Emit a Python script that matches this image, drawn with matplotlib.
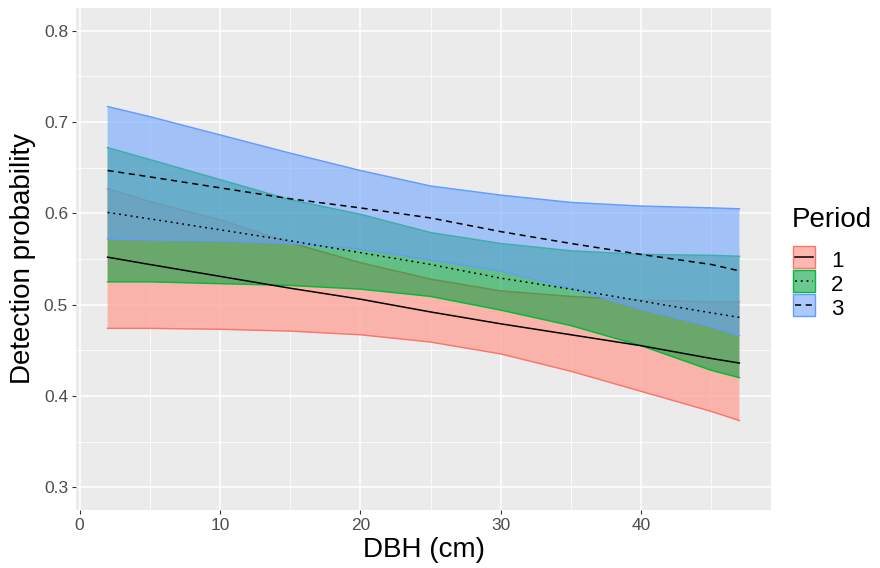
import matplotlib
matplotlib.use("Agg")
import matplotlib.pyplot as plt
from matplotlib.patches import Rectangle
from matplotlib.lines import Line2D
from matplotlib.ticker import MultipleLocator

plt.rcParams['font.family'] = ['Liberation Sans', 'DejaVu Sans']

dbh = [2, 5, 10, 15, 20, 25, 30, 35, 40, 45, 47]

p1_mean  = [0.552, 0.544, 0.531, 0.518, 0.506, 0.492, 0.479, 0.467, 0.455, 0.441, 0.436]
p1_lower = [0.474, 0.474, 0.473, 0.471, 0.467, 0.459, 0.446, 0.427, 0.405, 0.383, 0.373]
p1_upper = [0.627, 0.613, 0.593, 0.568, 0.546, 0.528, 0.515, 0.509, 0.505, 0.503, 0.503]

p2_mean  = [0.601, 0.594, 0.582, 0.570, 0.557, 0.544, 0.529, 0.517, 0.504, 0.491, 0.486]
p2_lower = [0.525, 0.525, 0.523, 0.521, 0.517, 0.509, 0.494, 0.477, 0.455, 0.428, 0.420]
p2_upper = [0.672, 0.659, 0.637, 0.615, 0.599, 0.579, 0.567, 0.559, 0.555, 0.554, 0.553]

p3_mean  = [0.647, 0.640, 0.628, 0.616, 0.606, 0.595, 0.580, 0.567, 0.555, 0.544, 0.537]
p3_lower = [0.572, 0.571, 0.570, 0.567, 0.561, 0.549, 0.537, 0.518, 0.495, 0.476, 0.466]
p3_upper = [0.717, 0.706, 0.686, 0.666, 0.647, 0.630, 0.620, 0.612, 0.608, 0.606, 0.605]

periods = ['1', '2', '3']
edge_colors = ['#F8766D', '#00BA38', '#619CFF']
fill_colors = ['#FFA59C', '#00A03C', '#6EA3FF']
fill_alphas = [0.8, 0.58, 0.58]
means = [p1_mean, p2_mean, p3_mean]
lowers = [p1_lower, p2_lower, p3_lower]
uppers = [p1_upper, p2_upper, p3_upper]
dash_styles = ['-', (0, (1.2, 2.6)), (0, (4, 3))]

W, H = 880, 568
fig = plt.figure(figsize=(W / 100, H / 100), dpi=100)
ax = fig.add_axes([76 / W, 1 - 510 / H, (771 - 76) / W, (510 - 8) / H])
ax.set_facecolor('#EBEBEB')
for s in ax.spines.values():
    s.set_visible(False)

ax.set_xlim(-0.25, 49.25)
ax.set_ylim(0.275, 0.825)
ax.xaxis.set_major_locator(MultipleLocator(10))
ax.xaxis.set_minor_locator(MultipleLocator(5))
ax.yaxis.set_minor_locator(MultipleLocator(0.05))
ax.set_yticks([0.3, 0.4, 0.5, 0.6, 0.7, 0.8])
ax.set_yticklabels(['0.3', '0.4', '0.5', '0.6', '0.7', '0.8'])
ax.grid(which='major', color='white', linewidth=1.1)
ax.grid(which='minor', color='white', linewidth=0.55)
ax.set_axisbelow(True)
ax.tick_params(which='major', length=3.2, width=0.8, color='#333333',
               labelsize=12.5, labelcolor='#4D4D4D', pad=2.5)
ax.tick_params(which='minor', length=0)

# each ribbon: fill then its outline; later ribbons cover earlier outlines
for i, (lo, hi, fc, fa, ec) in enumerate(zip(lowers, uppers, fill_colors, fill_alphas, edge_colors)):
    z = 2 + i * 0.1
    ax.fill_between(dbh, lo, hi, facecolor=fc, alpha=fa, edgecolor='none', zorder=z)
    ax.plot(dbh, lo, color=ec, lw=1.05, zorder=z + 0.05)
    ax.plot(dbh, hi, color=ec, lw=1.05, zorder=z + 0.05)

for m, ls in zip(means, dash_styles):
    ax.plot(dbh, m, color='black', lw=1.1, linestyle=ls, zorder=3)

ax.set_xlabel('DBH (cm)', fontsize=20, labelpad=3)
ax.set_ylabel('Detection probability', fontsize=20, labelpad=6)

# legend drawn manually in figure pixel coordinates
def fx(px):
    return px / W

def fy(py):
    return 1 - py / H

fig.text(fx(792), fy(226.7), 'Period', fontsize=20, ha='left', va='baseline')
key_left, key_size, pitch, first_top = 792.5, 22.5, 24.0, 245.7
for i, (lab, fc, fa, ec, ls) in enumerate(zip(periods, fill_colors, fill_alphas,
                                               edge_colors, dash_styles)):
    top = first_top + i * pitch
    fig.add_artist(Rectangle((fx(key_left), fy(top + key_size)), key_size / W, key_size / H,
                             transform=fig.transFigure, facecolor=matplotlib.colors.to_rgba(fc, fa),
                             edgecolor=ec, linewidth=1.0))
    cy = top + key_size / 2
    fig.add_artist(Line2D([fx(key_left + 2.5), fx(key_left + key_size - 2.5)], [fy(cy), fy(cy)],
                          transform=fig.transFigure, color='black', lw=1.1, linestyle=ls))
    fig.text(fx(831), fy(top + 21), lab, fontsize=16, ha='left', va='baseline')

fig.savefig('out.png', dpi=100)
